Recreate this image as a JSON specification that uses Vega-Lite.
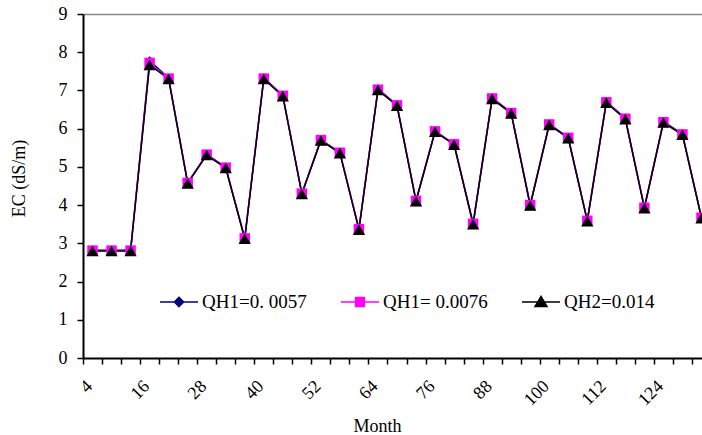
{
  "$schema": "https://vega.github.io/schema/vega-lite/v6.json",
  "width": 619,
  "height": 344,
  "autosize": {"type": "none"},
  "padding": {"left": 83, "top": 14, "right": 0, "bottom": 77},
  "background": "white",
  "config": {
    "view": {"stroke": null},
    "font": "Liberation Serif",
    "axisX": {"labelAngle": -45}
  },
  "data": {
    "values": [
      {"Month": 4, "series": "QH1=0. 0057", "EC": 2.82},
      {"Month": 8, "series": "QH1=0. 0057", "EC": 2.82},
      {"Month": 12, "series": "QH1=0. 0057", "EC": 2.82},
      {"Month": 16, "series": "QH1=0. 0057", "EC": 7.78},
      {"Month": 20, "series": "QH1=0. 0057", "EC": 7.32},
      {"Month": 24, "series": "QH1=0. 0057", "EC": 4.59},
      {"Month": 28, "series": "QH1=0. 0057", "EC": 5.33},
      {"Month": 32, "series": "QH1=0. 0057", "EC": 4.99},
      {"Month": 36, "series": "QH1=0. 0057", "EC": 3.14},
      {"Month": 40, "series": "QH1=0. 0057", "EC": 7.33},
      {"Month": 44, "series": "QH1=0. 0057", "EC": 6.87},
      {"Month": 48, "series": "QH1=0. 0057", "EC": 4.31},
      {"Month": 52, "series": "QH1=0. 0057", "EC": 5.71},
      {"Month": 56, "series": "QH1=0. 0057", "EC": 5.38},
      {"Month": 60, "series": "QH1=0. 0057", "EC": 3.38},
      {"Month": 64, "series": "QH1=0. 0057", "EC": 7.04},
      {"Month": 68, "series": "QH1=0. 0057", "EC": 6.62},
      {"Month": 72, "series": "QH1=0. 0057", "EC": 4.12},
      {"Month": 76, "series": "QH1=0. 0057", "EC": 5.94},
      {"Month": 80, "series": "QH1=0. 0057", "EC": 5.60},
      {"Month": 84, "series": "QH1=0. 0057", "EC": 3.52},
      {"Month": 88, "series": "QH1=0. 0057", "EC": 6.81},
      {"Month": 92, "series": "QH1=0. 0057", "EC": 6.42},
      {"Month": 96, "series": "QH1=0. 0057", "EC": 4.01},
      {"Month": 100, "series": "QH1=0. 0057", "EC": 6.12},
      {"Month": 104, "series": "QH1=0. 0057", "EC": 5.77},
      {"Month": 108, "series": "QH1=0. 0057", "EC": 3.60},
      {"Month": 112, "series": "QH1=0. 0057", "EC": 6.71},
      {"Month": 116, "series": "QH1=0. 0057", "EC": 6.27},
      {"Month": 120, "series": "QH1=0. 0057", "EC": 3.94},
      {"Month": 124, "series": "QH1=0. 0057", "EC": 6.19},
      {"Month": 128, "series": "QH1=0. 0057", "EC": 5.86},
      {"Month": 132, "series": "QH1=0. 0057", "EC": 3.68},
      {"Month": 4, "series": "QH1= 0.0076", "EC": 2.81},
      {"Month": 8, "series": "QH1= 0.0076", "EC": 2.81},
      {"Month": 12, "series": "QH1= 0.0076", "EC": 2.81},
      {"Month": 16, "series": "QH1= 0.0076", "EC": 7.72},
      {"Month": 20, "series": "QH1= 0.0076", "EC": 7.31},
      {"Month": 24, "series": "QH1= 0.0076", "EC": 4.58},
      {"Month": 28, "series": "QH1= 0.0076", "EC": 5.32},
      {"Month": 32, "series": "QH1= 0.0076", "EC": 4.98},
      {"Month": 36, "series": "QH1= 0.0076", "EC": 3.13},
      {"Month": 40, "series": "QH1= 0.0076", "EC": 7.31},
      {"Month": 44, "series": "QH1= 0.0076", "EC": 6.86},
      {"Month": 48, "series": "QH1= 0.0076", "EC": 4.30},
      {"Month": 52, "series": "QH1= 0.0076", "EC": 5.70},
      {"Month": 56, "series": "QH1= 0.0076", "EC": 5.37},
      {"Month": 60, "series": "QH1= 0.0076", "EC": 3.37},
      {"Month": 64, "series": "QH1= 0.0076", "EC": 7.02},
      {"Month": 68, "series": "QH1= 0.0076", "EC": 6.61},
      {"Month": 72, "series": "QH1= 0.0076", "EC": 4.11},
      {"Month": 76, "series": "QH1= 0.0076", "EC": 5.93},
      {"Month": 80, "series": "QH1= 0.0076", "EC": 5.59},
      {"Month": 84, "series": "QH1= 0.0076", "EC": 3.51},
      {"Month": 88, "series": "QH1= 0.0076", "EC": 6.79},
      {"Month": 92, "series": "QH1= 0.0076", "EC": 6.41},
      {"Month": 96, "series": "QH1= 0.0076", "EC": 4.00},
      {"Month": 100, "series": "QH1= 0.0076", "EC": 6.11},
      {"Month": 104, "series": "QH1= 0.0076", "EC": 5.76},
      {"Month": 108, "series": "QH1= 0.0076", "EC": 3.59},
      {"Month": 112, "series": "QH1= 0.0076", "EC": 6.69},
      {"Month": 116, "series": "QH1= 0.0076", "EC": 6.26},
      {"Month": 120, "series": "QH1= 0.0076", "EC": 3.93},
      {"Month": 124, "series": "QH1= 0.0076", "EC": 6.17},
      {"Month": 128, "series": "QH1= 0.0076", "EC": 5.85},
      {"Month": 132, "series": "QH1= 0.0076", "EC": 3.67},
      {"Month": 4, "series": "QH2=0.014", "EC": 2.80},
      {"Month": 8, "series": "QH2=0.014", "EC": 2.80},
      {"Month": 12, "series": "QH2=0.014", "EC": 2.80},
      {"Month": 16, "series": "QH2=0.014", "EC": 7.67},
      {"Month": 20, "series": "QH2=0.014", "EC": 7.30},
      {"Month": 24, "series": "QH2=0.014", "EC": 4.57},
      {"Month": 28, "series": "QH2=0.014", "EC": 5.31},
      {"Month": 32, "series": "QH2=0.014", "EC": 4.97},
      {"Month": 36, "series": "QH2=0.014", "EC": 3.12},
      {"Month": 40, "series": "QH2=0.014", "EC": 7.30},
      {"Month": 44, "series": "QH2=0.014", "EC": 6.85},
      {"Month": 48, "series": "QH2=0.014", "EC": 4.29},
      {"Month": 52, "series": "QH2=0.014", "EC": 5.69},
      {"Month": 56, "series": "QH2=0.014", "EC": 5.36},
      {"Month": 60, "series": "QH2=0.014", "EC": 3.36},
      {"Month": 64, "series": "QH2=0.014", "EC": 7.01},
      {"Month": 68, "series": "QH2=0.014", "EC": 6.60},
      {"Month": 72, "series": "QH2=0.014", "EC": 4.10},
      {"Month": 76, "series": "QH2=0.014", "EC": 5.92},
      {"Month": 80, "series": "QH2=0.014", "EC": 5.58},
      {"Month": 84, "series": "QH2=0.014", "EC": 3.50},
      {"Month": 88, "series": "QH2=0.014", "EC": 6.78},
      {"Month": 92, "series": "QH2=0.014", "EC": 6.40},
      {"Month": 96, "series": "QH2=0.014", "EC": 3.99},
      {"Month": 100, "series": "QH2=0.014", "EC": 6.10},
      {"Month": 104, "series": "QH2=0.014", "EC": 5.75},
      {"Month": 108, "series": "QH2=0.014", "EC": 3.58},
      {"Month": 112, "series": "QH2=0.014", "EC": 6.68},
      {"Month": 116, "series": "QH2=0.014", "EC": 6.25},
      {"Month": 120, "series": "QH2=0.014", "EC": 3.92},
      {"Month": 124, "series": "QH2=0.014", "EC": 6.16},
      {"Month": 128, "series": "QH2=0.014", "EC": 5.84},
      {"Month": 132, "series": "QH2=0.014", "EC": 3.66}
    ]
  },
  "encoding": {
    "x": {
      "field": "Month",
      "type": "quantitative",
      "scale": {"domain": [2, 132.11], "nice": false, "zero": false},
      "axis": {
        "values": [4, 8, 12, 16, 20, 24, 28, 32, 36, 40, 44, 48, 52, 56, 60, 64, 68, 72, 76, 80, 84, 88, 92, 96, 100, 104, 108, 112, 116, 120, 124, 128, 132],
        "labelExpr": "datum.value % 12 == 4 && datum.value < 130 ? datum.label : ''",
        "labelOverlap": false,
        "tickOffset": -9.52,
        "grid": false,
        "labelAngle": -45,
        "labelFont": "Liberation Serif",
        "labelFontSize": 18,
        "labelColor": "black",
        "labelPadding": 13,
        "tickSize": 6,
        "tickColor": "black",
        "tickWidth": 1.5,
        "domainColor": "black",
        "domainWidth": 2,
        "title": "Month",
        "titleFont": "Liberation Serif",
        "titleFontSize": 18,
        "titleFontWeight": "normal",
        "titleColor": "black",
        "titleX": 294,
        "titleY": 73,
        "titleAlign": "center",
        "titleBaseline": "alphabetic",
        "encode": {
          "labels": {
            "update": {
              "angle": {"value": -45},
              "align": {"value": "right"},
              "baseline": {"value": "middle"},
              "dx": {"value": 9.52}
            }
          }
        }
      }
    },
    "y": {
      "field": "EC",
      "type": "quantitative",
      "scale": {"domain": [0, 9], "nice": false, "zero": true},
      "axis": {
        "values": [0, 1, 2, 3, 4, 5, 6, 7, 8, 9],
        "grid": true,
        "gridColor": "#888888",
        "gridWidth": 1.5,
        "gridOpacity": {"condition": {"test": "datum.value == 9", "value": 1}, "value": 0},
        "labelFont": "Liberation Serif",
        "labelFontSize": 18,
        "labelColor": "black",
        "labelPadding": 10,
        "tickSize": 6,
        "tickColor": "black",
        "tickWidth": 1.5,
        "domainColor": "black",
        "domainWidth": 2,
        "title": "EC (dS/m)",
        "titleFont": "Liberation Serif",
        "titleFontSize": 18,
        "titleFontWeight": "normal",
        "titleColor": "black",
        "titleAngle": -90,
        "titleX": -59,
        "titleY": 164,
        "titleAlign": "center",
        "titleBaseline": "alphabetic"
      }
    }
  },
  "layer": [
    {
      "mark": {"type": "line", "strokeWidth": 1.5, "clip": true},
      "encoding": {
        "color": {
          "field": "series",
          "type": "nominal",
          "sort": ["QH1=0. 0057", "QH1= 0.0076", "QH2=0.014"],
          "scale": {
            "domain": ["QH1=0. 0057", "QH1= 0.0076", "QH2=0.014"],
            "range": ["#000080", "#ff00ff", "#000000"]
          },
          "legend": {
            "orient": "none",
            "legendX": 75,
            "legendY": 267,
            "direction": "horizontal",
            "title": null,
            "padding": 0,
            "symbolSize": 1600,
            "symbolStrokeWidth": 1.5,
            "labelFont": "Liberation Serif",
            "labelFontSize": 19,
            "labelColor": "black",
            "labelOffset": 2,
            "columnPadding": 31,
            "encode": {
              "symbols": {
                "update": {
                  "shape": {"signal": "datum.value === 'QH1=0. 0057' ? 'M-0.95,0H0.95M0,-0.23L0.23,0L0,0.23L-0.23,0Z' : datum.value === 'QH1= 0.0076' ? 'M-0.95,0H0.95M-0.22,-0.22H0.22V0.22H-0.22Z' : 'M-0.95,0H0.95M0,-0.28L0.3,0.22H-0.3Z'"},
                  "fill": {"scale": "color", "field": "value"},
                  "stroke": {"scale": "color", "field": "value"},
                  "strokeWidth": {"value": 1.5},
                  "size": {"value": 1600},
                  "opacity": {"value": 1}
                }
              }
            }
          }
        }
      }
    },
    {
      "transform": [{"filter": "datum.series === 'QH1=0. 0057'"}],
      "mark": {"type": "point", "shape": "diamond", "size": 80, "filled": true, "color": "#000080", "opacity": 1, "clip": true}
    },
    {
      "transform": [{"filter": "datum.series === 'QH1= 0.0076'"}],
      "mark": {"type": "point", "shape": "square", "size": 110, "filled": true, "color": "#ff00ff", "opacity": 1, "clip": true}
    },
    {
      "transform": [{"filter": "datum.series === 'QH2=0.014'"}],
      "mark": {"type": "point", "shape": "triangle-up", "size": 150, "filled": true, "color": "#000000", "opacity": 1, "clip": true}
    }
  ]
}
